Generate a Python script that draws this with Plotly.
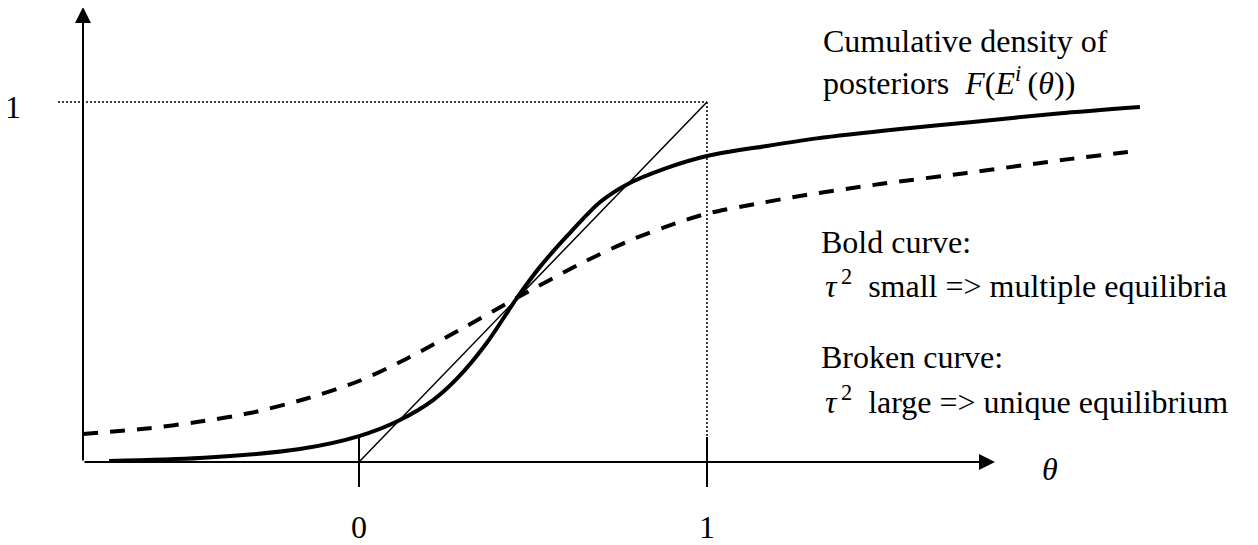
import plotly.graph_objects as go

# ---- data (theta, cumulative density of posteriors) ----
theta_bold = [-0.718, -0.457, -0.170, 0.0, 0.112, 0.213, 0.282, 0.368, 0.454, 0.520, 0.598,
              0.693, 0.770, 0.885, 1.0, 1.172, 1.316, 1.555, 1.756, 2.009, 2.244]
F_bold = [0.003, 0.011, 0.036, 0.072, 0.114, 0.172, 0.232, 0.332, 0.456, 0.542, 0.628,
          0.722, 0.771, 0.817, 0.850, 0.878, 0.899, 0.925, 0.944, 0.968, 0.986]

theta_broken = [-0.793, -0.601, -0.466, -0.313, -0.155, 0.0, 0.141, 0.310, 0.454, 0.635,
                0.787, 0.922, 1.009, 1.152, 1.267, 1.497, 1.747, 2.046, 2.233]
F_broken = [0.078, 0.094, 0.111, 0.136, 0.175, 0.225, 0.289, 0.378, 0.456, 0.550,
            0.619, 0.667, 0.692, 0.719, 0.739, 0.772, 0.803, 0.842, 0.864]

diag_theta = [0, 1]
diag_F = [0, 1]

x_tick_vals = [0, 1]
x_tick_labels = ["0", "1"]
y_tick_vals = [1]
y_tick_labels = ["1"]

# page geometry (the page body adds an 8px margin around the figure)
OFF = 8
W, H = 1258 - OFF, 545 - OFF
X0PX, X1PX = 359, 707   # screen pixel of theta=0 and theta=1
Y0PX, Y1PX = 462, 102   # screen pixel of F=0 and F=1


def px_x(px):
    return (px - X0PX) / (X1PX - X0PX)


def px_y(py):
    return (Y0PX - py) / (Y0PX - Y1PX)


FONT = "Liberation Serif"
FS = 32

fig = go.Figure()

# diagonal 45-degree line
fig.add_trace(go.Scatter(x=diag_theta, y=diag_F, mode="lines",
                         line=dict(color="black", width=1.5), hoverinfo="skip"))
# broken curve
fig.add_trace(go.Scatter(x=theta_broken, y=F_broken, mode="lines",
                         line=dict(color="black", width=4, dash="15px,12px",
                                   shape="spline", smoothing=0.8),
                         hoverinfo="skip"))
# bold curve
fig.add_trace(go.Scatter(x=theta_bold, y=F_bold, mode="lines",
                         line=dict(color="black", width=4, shape="spline", smoothing=0.8),
                         hoverinfo="skip"))

shapes = []
# dotted guide lines
shapes.append(dict(type="line", xref="x", yref="y", x0=px_x(58), x1=x_tick_vals[1],
                   y0=y_tick_vals[0], y1=y_tick_vals[0],
                   line=dict(color="black", width=1.5, dash="2px,2px")))
shapes.append(dict(type="line", xref="x", yref="y", x0=x_tick_vals[1], x1=x_tick_vals[1],
                   y0=y_tick_vals[0], y1=px_y(438),
                   line=dict(color="black", width=1.5, dash="2px,2px")))
# ticks on the theta axis
for tv in x_tick_vals:
    shapes.append(dict(type="line", xref="x", yref="y", x0=tv, x1=tv,
                       y0=px_y(487), y1=px_y(437),
                       line=dict(color="black", width=2)))

annotations = []
# axes with arrowheads
annotations.append(dict(xref="x", yref="y", axref="x", ayref="y",
                        x=px_x(83), y=px_y(7), ax=px_x(83), ay=0,
                        showarrow=True, arrowhead=2, arrowsize=1.6, arrowwidth=2,
                        arrowcolor="black", standoff=0, text=""))
annotations.append(dict(xref="x", yref="y", axref="x", ayref="y",
                        x=px_x(995), y=0, ax=px_x(83), ay=0,
                        showarrow=True, arrowhead=2, arrowsize=1.6, arrowwidth=2,
                        arrowcolor="black", standoff=0, text=""))

# tick labels
for tv, tl in zip(x_tick_vals, x_tick_labels):
    annotations.append(dict(xref="x", yref="y", x=tv, y=px_y(527), text=tl,
                            showarrow=False, xanchor="center", yanchor="middle",
                            font=dict(family=FONT, size=FS, color="black")))
for tv, tl in zip(y_tick_vals, y_tick_labels):
    annotations.append(dict(xref="x", yref="y", x=px_x(13), y=tv + px_y(107) - px_y(102), text=tl,
                            showarrow=False, xanchor="center", yanchor="middle",
                            font=dict(family=FONT, size=FS, color="black")))

# axis title theta
annotations.append(dict(xref="x", yref="y", x=px_x(1050), y=px_y(469), text="<i>θ</i>",
                        showarrow=False, xanchor="center", yanchor="middle",
                        font=dict(family=FONT, size=FS, color="black")))

# descriptive texts
texts = [
    (821, 41, "Cumulative density of"),
    (821, 81, "posteriors\u00a0\u00a0<i>F</i>(<i>E</i><sup><i>i</i></sup>\u2009(<i>θ</i>))"),
    (819, 242, "Bold curve:"),
    (823, 284, "<i>τ</i><sup>\u20092</sup>\u00a0\u00a0small => multiple equilibria"),
    (819, 357, "Broken curve:"),
    (823, 400, "<i>τ</i><sup>\u20092</sup>\u00a0\u00a0large => unique equilibrium"),
]
for xp, yp, t in texts:
    annotations.append(dict(xref="x", yref="y", x=px_x(xp), y=px_y(yp), text=t,
                            showarrow=False, xanchor="left", yanchor="middle",
                            font=dict(family=FONT, size=FS, color="black")))

fig.update_layout(
    width=W, height=H,
    margin=dict(l=0, r=0, t=0, b=0),
    paper_bgcolor="white", plot_bgcolor="white",
    showlegend=False,
    xaxis=dict(visible=False, range=[px_x(OFF), px_x(OFF + W)], fixedrange=True),
    yaxis=dict(visible=False, range=[px_y(OFF + H), px_y(OFF)], fixedrange=True),
    shapes=shapes,
    annotations=annotations,
)

fig.write_html("out.html")
